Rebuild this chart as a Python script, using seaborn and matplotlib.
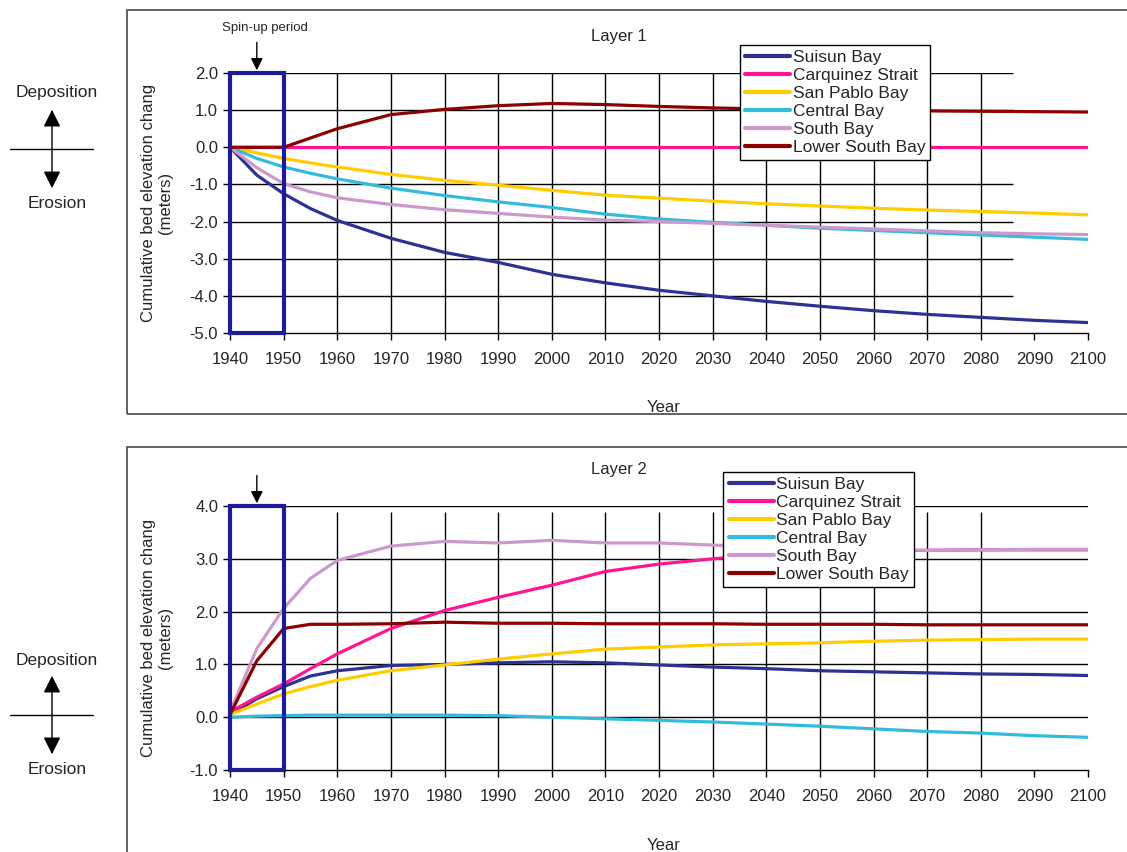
import matplotlib
matplotlib.use("Agg")
import matplotlib.pyplot as plt
from matplotlib.patches import Rectangle, FancyArrowPatch
import pandas as pd
import seaborn as sns

# --- data ---
years = [1940, 1945, 1950, 1955, 1960, 1970, 1980, 1990, 2000, 2010,
         2020, 2030, 2040, 2050, 2060, 2070, 2080, 2090, 2100]

regions = ["Suisun Bay", "Carquinez Strait", "San Pablo Bay",
           "Central Bay", "South Bay", "Lower South Bay"]

# Layer 1 (meters)
l1_suisun = [0.0, -0.75, -1.25, -1.65, -1.97, -2.45, -2.83, -3.1, -3.42, -3.65,
             -3.85, -4.0, -4.15, -4.28, -4.4, -4.5, -4.58, -4.66, -4.72]
l1_carquinez = [0.0] * 19
l1_san_pablo = [0.0, -0.15, -0.3, -0.42, -0.53, -0.73, -0.89, -1.02, -1.16, -1.29,
                -1.37, -1.45, -1.52, -1.58, -1.64, -1.69, -1.73, -1.77, -1.82]
l1_central = [0.0, -0.3, -0.53, -0.7, -0.85, -1.1, -1.3, -1.47, -1.62, -1.8,
              -1.93, -2.02, -2.1, -2.18, -2.24, -2.3, -2.36, -2.42, -2.48]
l1_south = [0.0, -0.55, -0.98, -1.2, -1.36, -1.54, -1.68, -1.78, -1.88, -1.96,
            -2.0, -2.05, -2.1, -2.15, -2.2, -2.25, -2.3, -2.33, -2.35]
l1_lower_south = [0.0, 0.0, 0.0, 0.25, 0.5, 0.88, 1.02, 1.12, 1.18, 1.15,
                  1.1, 1.06, 1.03, 1.0, 1.0, 0.98, 0.97, 0.96, 0.95]

# Layer 2 (meters)
l2_suisun = [0.05, 0.35, 0.58, 0.78, 0.88, 0.98, 1.0, 1.03, 1.05, 1.03,
             0.99, 0.95, 0.92, 0.88, 0.86, 0.84, 0.82, 0.81, 0.79]
l2_carquinez = [0.1, 0.38, 0.63, 0.92, 1.2, 1.68, 2.02, 2.27, 2.5, 2.76,
                2.9, 3.0, 3.08, 3.12, 3.15, 3.16, 3.17, 3.17, 3.17]
l2_san_pablo = [0.05, 0.25, 0.44, 0.58, 0.7, 0.88, 0.99, 1.1, 1.2, 1.29,
                1.33, 1.37, 1.39, 1.41, 1.44, 1.46, 1.47, 1.48, 1.48]
l2_central = [0.0, 0.02, 0.03, 0.04, 0.04, 0.04, 0.04, 0.03, 0.0, -0.03,
              -0.06, -0.09, -0.13, -0.17, -0.22, -0.27, -0.3, -0.35, -0.38]
l2_south = [0.1, 1.3, 2.06, 2.63, 2.97, 3.24, 3.33, 3.3, 3.35, 3.3,
            3.3, 3.26, 3.22, 3.2, 3.18, 3.16, 3.17, 3.18, 3.18]
l2_lower_south = [0.05, 1.07, 1.68, 1.76, 1.76, 1.77, 1.8, 1.78, 1.78, 1.77,
                  1.77, 1.77, 1.76, 1.76, 1.76, 1.75, 1.75, 1.75, 1.75]

colors = ["#2e3192", "#ff1493", "#ffcc00", "#33bbdd", "#cc99cc", "#8b0000"]


def make_frame(series):
    rows = []
    for name, values in zip(regions, series):
        for yr, v in zip(years, values):
            rows.append({"Year": yr, "Change": v, "Region": name})
    return pd.DataFrame(rows)


layer1 = make_frame([l1_suisun, l1_carquinez, l1_san_pablo,
                     l1_central, l1_south, l1_lower_south])
layer2 = make_frame([l2_suisun, l2_carquinez, l2_san_pablo,
                     l2_central, l2_south, l2_lower_south])

sns.set_style("white")
plt.rcParams["font.family"] = ["Liberation Sans", "DejaVu Sans"]
plt.rcParams["axes.unicode_minus"] = False

fig = plt.figure(figsize=(11.27, 8.52), dpi=100)

# outer frames around each panel
for y0, h in [(0.514, 0.474), (-0.1, 0.575)]:
    fig.patches.append(Rectangle((0.113, y0), 1.0, h, transform=fig.transFigure,
                                 fill=False, edgecolor="#555555", linewidth=1.3))


def draw_panel(ax, df, ylim, yticks, title, hgrid_end, vgrid_top, legend_anchor,
               spin_text):
    sns.lineplot(data=df, x="Year", y="Change", hue="Region", hue_order=regions,
                 palette=colors, linewidth=2.3, ax=ax, zorder=3)
    ax.set_xlim(1940, 2100)
    ax.set_ylim(*ylim)
    ax.set_xticks(range(1940, 2101, 10))
    ax.set_yticks(yticks)
    ax.set_yticklabels([f"{t:.1f}" for t in yticks])
    ax.tick_params(axis="both", labelsize=12, direction="out", length=5,
                   width=1, color="black", left=True, bottom=True)
    ax.tick_params(axis="x", pad=9)
    for side in ["top", "right"]:
        ax.spines[side].set_visible(False)
    for side in ["left", "bottom"]:
        ax.spines[side].set_color("black")
        ax.spines[side].set_linewidth(1)

    # grid
    ax.hlines([t for t in yticks if t != ylim[0]], 1940, hgrid_end,
              color="black", linewidth=1, zorder=1)
    ax.vlines(range(1960, 2081, 10), ylim[0], vgrid_top, color="black",
              linewidth=1, zorder=1)

    # spin-up period box
    ax.add_patch(Rectangle((1940, ylim[0]), 10, ylim[1] - ylim[0],
                           fill=False, edgecolor="#1c1c96", linewidth=3,
                           zorder=4, clip_on=False))
    ax.annotate("", xy=(1945, ylim[1]), xycoords="data",
                xytext=(0, 24), textcoords="offset points",
                arrowprops=dict(arrowstyle="-|>", color="black", lw=1,
                                mutation_scale=18), annotation_clip=False)
    if spin_text:
        ax.annotate(spin_text, xy=(1946.5, ylim[1]), xycoords="data",
                    xytext=(0, 28), textcoords="offset points", ha="center",
                    va="bottom", fontsize=9.5, annotation_clip=False)

    ax.text(2012.5, 1.14, title, transform=ax.get_xaxis_transform(),
            ha="center", va="center", fontsize=12)
    ax.set_xlabel("Year", fontsize=12)
    ax.xaxis.set_label_coords(0.505, -0.258)
    ax.set_ylabel("Cumulative bed elevation chang\n(meters)", fontsize=12,
                  labelpad=12, linespacing=1.2)

    sns.move_legend(ax, "upper left", bbox_to_anchor=legend_anchor, title=None,
                    fontsize=12.5, frameon=True, fancybox=False, edgecolor="black",
                    framealpha=1, handlelength=2.6, handletextpad=0.15,
                    labelspacing=0.16, borderpad=0.3, borderaxespad=0)
    leg = ax.get_legend()
    leg.get_frame().set_linewidth(1)
    leg.set_zorder(6)
    for line in leg.get_lines():
        line.set_linewidth(3)


ax1 = fig.add_axes([0.2041, 0.6092, 0.7613, 0.3051])
draw_panel(ax1, layer1, (-5, 2), [2, 1, 0, -1, -2, -3, -4, -5], "Layer 1",
           2086, 2, (0.594, 1.108), "Spin-up period")

ax2 = fig.add_axes([0.2041, 0.0962, 0.7613, 0.3099])
draw_panel(ax2, layer2, (-1, 4), [4, 3, 2, 1, 0, -1], "Layer 2",
           2100, 3.88, (0.575, 1.129), None)

# deposition / erosion indicators
for ytop, ymid, ybot in [(93, 149, 203), (660, 715, 769)]:
    fig.text(57 / 1127, 1 - ytop / 852, "Deposition", ha="center", va="center",
             fontsize=12.5)
    fig.text(57 / 1127, 1 - ybot / 852, "Erosion", ha="center", va="center",
             fontsize=12.5)
    fig.add_artist(plt.Line2D([10 / 1127, 93 / 1127],
                              [1 - ymid / 852, 1 - ymid / 852],
                              color="black", linewidth=1))
    fig.add_artist(FancyArrowPatch(
        (52 / 1127, 1 - (ymid - 42) / 852), (52 / 1127, 1 - (ymid + 42) / 852),
        transform=fig.transFigure, arrowstyle="<|-|>", mutation_scale=26,
        color="black", linewidth=1))

fig.savefig("out.png", dpi=100)
